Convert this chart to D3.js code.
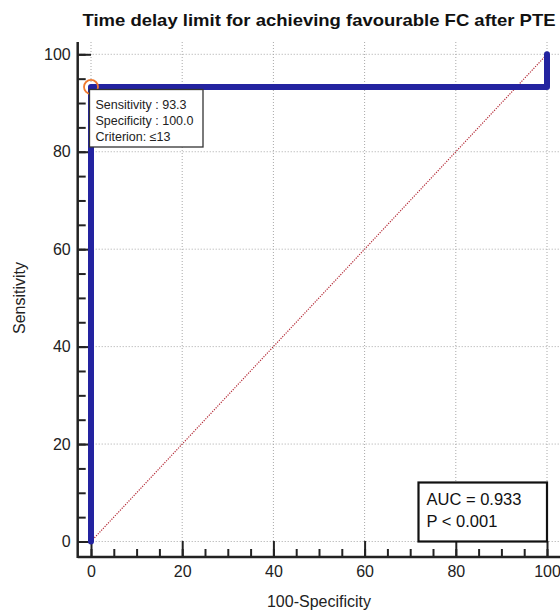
<!DOCTYPE html>
<html>
<head>
<meta charset="utf-8">
<script src="https://cdn.jsdelivr.net/npm/d3@7"></script>
<style>
body { margin: 0; background: #fff; }
svg { display: block; font-family: Arial, "Liberation Sans", sans-serif; }
</style>
</head>
<body>
<div id="chart"></div>
<script>
// ROC curve points (100-Specificity, Sensitivity)
var rocX = [0, 0, 100, 100];
var rocY = [0, 93.3, 93.3, 100];
var xTicks = [0, 20, 40, 60, 80, 100];
var yTicks = [0, 20, 40, 60, 80, 100];
var minorTicks = d3.range(0, 101, 5);
var pointLines = ["Sensitivity : 93.3", "Specificity : 100.0", "Criterion: \u226413"];
var statLines = ["AUC = 0.933", "P < 0.001"];
var cutX = 0, cutY = 93.3;

var width = 560, height = 612;

var svg = d3.select("#chart").append("svg")
    .attr("width", width)
    .attr("height", height);

var x = d3.scaleLinear().domain([0, 100]).range([91, 547]);
var y = d3.scaleLinear().domain([0, 100]).range([541.5, 54.3]);

var axisX = 77.7, axisY = 557, plotTop = 42, plotRight = 562;

// grid
svg.append("g").selectAll("line").data(xTicks).enter().append("line")
    .attr("x1", d => x(d)).attr("x2", d => x(d))
    .attr("y1", plotTop).attr("y2", y(0))
    .attr("stroke", "#a8a8a8").attr("stroke-width", 1).attr("stroke-dasharray", "1,2");
svg.append("g").selectAll("line").data(yTicks).enter().append("line")
    .attr("x1", axisX).attr("x2", plotRight)
    .attr("y1", d => y(d)).attr("y2", d => y(d))
    .attr("stroke", "#a8a8a8").attr("stroke-width", 1).attr("stroke-dasharray", "1,2");

// diagonal reference line
svg.append("line")
    .attr("x1", x(0)).attr("y1", y(0)).attr("x2", x(100)).attr("y2", y(100))
    .attr("stroke", "#b42a36").attr("stroke-width", 1.2).attr("stroke-dasharray", "1.2,1.3");

// axes
var gx = svg.append("g").attr("transform", "translate(0," + axisY + ")")
    .call(d3.axisBottom(x).tickValues(minorTicks).tickSize(-8).tickFormat(""));
gx.select(".domain").remove();
var gx2 = svg.append("g").attr("transform", "translate(0," + axisY + ")")
    .call(d3.axisBottom(x).tickValues(xTicks).tickSize(-16).tickPadding(9).tickFormat(d3.format("d")));
gx2.select(".domain").remove();

var gy = svg.append("g").attr("transform", "translate(" + axisX + ",0)")
    .call(d3.axisLeft(y).tickValues(minorTicks).tickSize(-8).tickFormat(""));
gy.select(".domain").remove();
var gy2 = svg.append("g").attr("transform", "translate(" + axisX + ",0)")
    .call(d3.axisLeft(y).tickValues(yTicks).tickSize(-(x(0) - axisX)).tickPadding(7).tickFormat(d3.format("d")));
gy2.select(".domain").remove();

svg.selectAll(".tick line").attr("stroke", "#222").attr("stroke-width", 2);
svg.selectAll(".tick text").attr("font-size", 16).attr("fill", "#222")
    .attr("font-family", "Arial, 'Liberation Sans', sans-serif");

svg.append("line").attr("x1", axisX).attr("x2", plotRight).attr("y1", axisY).attr("y2", axisY)
    .attr("stroke", "#222").attr("stroke-width", 2.5);
svg.append("line").attr("x1", axisX).attr("x2", axisX).attr("y1", plotTop).attr("y2", axisY + 1)
    .attr("stroke", "#222").attr("stroke-width", 2.5);

// ROC curve
var line = d3.line().x(d => x(d[0])).y(d => y(d[1]));
svg.append("path")
    .datum(d3.zip(rocX, rocY))
    .attr("d", line)
    .attr("fill", "none")
    .attr("stroke", "#2323a0")
    .attr("stroke-width", 6)
    .attr("stroke-linecap", "round")
    .attr("stroke-linejoin", "round");

// criterion marker
svg.append("circle")
    .attr("cx", x(cutX)).attr("cy", y(cutY)).attr("r", 7)
    .attr("fill", "none").attr("stroke", "#f07a30").attr("stroke-width", 1.8);

// tooltip box
var tip = svg.append("g").attr("transform", "translate(89.5,89.5)");
tip.append("rect").attr("width", 113.5).attr("height", 57.5)
    .attr("fill", "#fff").attr("stroke", "#333").attr("stroke-width", 1.3);
tip.selectAll("text").data(pointLines).enter().append("text")
    .attr("x", 6).attr("y", (d, i) => 19.5 + i * 16)
    .attr("font-size", 12.5).attr("fill", "#222")
    .text(d => d);

// stats box
var sb = svg.append("g").attr("transform", "translate(" + 418.5 + "," + 482.5 + ")");
sb.append("rect").attr("width", x(100) - 418.5).attr("height", y(0) - 482.5)
    .attr("fill", "#fff").attr("stroke", "#111").attr("stroke-width", 2.2);
sb.selectAll("text").data(statLines).enter().append("text")
    .attr("x", 8).attr("y", (d, i) => 22.5 + i * 21.5)
    .attr("font-size", 16.5).attr("fill", "#111")
    .text(d => d);

// title and labels
svg.append("text")
    .attr("x", 319).attr("y", 26)
    .attr("text-anchor", "middle")
    .attr("font-size", 16.5).attr("font-weight", "bold").attr("fill", "#111")
    .attr("textLength", 473).attr("lengthAdjust", "spacingAndGlyphs")
    .text("Time delay limit for achieving favourable FC after PTE");

svg.append("text")
    .attr("x", 319).attr("y", 607)
    .attr("text-anchor", "middle")
    .attr("font-size", 16).attr("fill", "#222")
    .text("100-Specificity");

svg.append("text")
    .attr("transform", "translate(25,298) rotate(-90)")
    .attr("text-anchor", "middle")
    .attr("font-size", 16).attr("fill", "#222")
    .text("Sensitivity");
</script>
</body>
</html>
